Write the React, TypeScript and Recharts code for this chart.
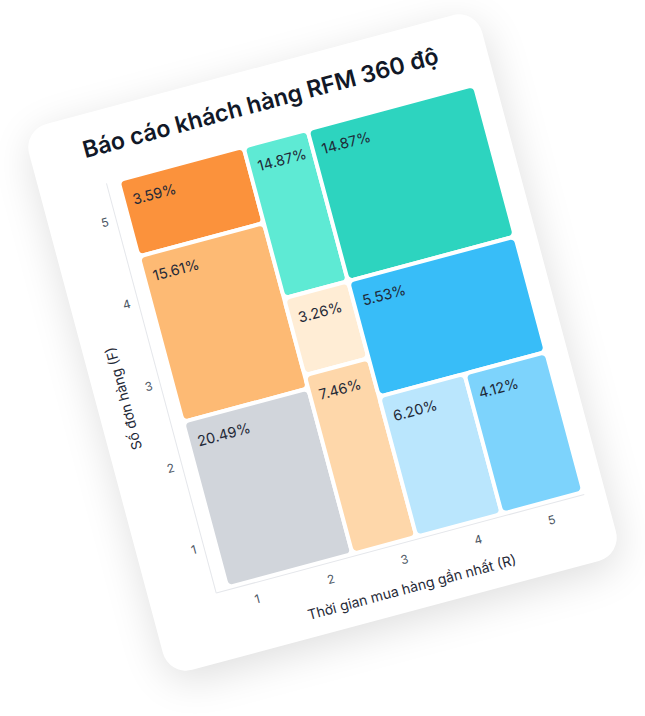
import { ComposedChart, XAxis, YAxis, ReferenceArea, Scatter } from "recharts";

// axis ticks sit near the middle of each score band
const xTicks = [0.5, 1.5, 2.5, 3.5, 4.5];
const xTickLabels = ["1", "2", "3", "4", "5"];
const yTicks = [0.56, 1.56, 2.56, 3.56, 4.56];
const yTickLabels = ["1", "2", "3", "4", "5"];

// RFM segments: share + extent in score units (R on x, F on y)
const segLabels = ["3.59%", "15.61%", "20.49%", "14.87%", "3.26%", "7.46%", "14.87%", "5.53%", "6.20%", "4.12%"];
const segX1 = [0.16, 0.16, 0.16, 1.86, 1.86, 1.86, 2.73, 2.73, 2.73, 3.89];
const segX2 = [1.86, 1.86, 1.86, 2.73, 2.73, 2.73, 5.0, 5.0, 3.89, 5.0];
const segY1 = [4.07, 2.05, 0.03, 3.15, 2.21, 0.03, 3.15, 1.74, 0.03, 0.03];
const segY2 = [5.0, 4.07, 2.05, 5.0, 3.15, 2.21, 5.0, 3.15, 1.74, 1.74];
const segColors = ["#FB923C", "#FDBA74", "#D1D5DB", "#5EEAD4", "#FFEDD5", "#FED7AA", "#2DD4BF", "#38BDF8", "#BAE6FD", "#7DD3FC"];

// segment centres, only so the axes have data to scale against
const segData = segLabels.map((_, i) => ({
  r: (segX1[i] + segX2[i]) / 2,
  f: (segY1[i] + segY2[i]) / 2,
}));

const CARD_W = 469;
const CARD_H = 565;

const tickStyle = { fontSize: 12, fill: "#4B5563" };

export default function App() {
  return (
    <div
      style={{
        position: "absolute",
        left: 0,
        top: 0,
        width: 645,
        height: 716,
        overflow: "hidden",
        background: "#fff",
        fontFamily: "Inter, 'Noto Sans', sans-serif",
      }}
    >
      <div
        style={{
          position: "absolute",
          left: 322 - CARD_W / 2,
          top: 342 - CARD_H / 2,
          width: CARD_W,
          height: CARD_H,
          background: "#fff",
          borderRadius: 24,
          boxShadow: "0 10px 40px rgba(0,0,0,0.13)",
          transform: "rotate(-15deg)",
          transformOrigin: "center",
        }}
      >
        <div
          style={{
            position: "absolute",
            left: 53,
            top: 23,
            fontSize: 23.2,
            lineHeight: "24px",
            fontWeight: 600,
            color: "#111827",
            whiteSpace: "nowrap",
          }}
        >
          Báo cáo khách hàng RFM 360 độ
        </div>
        <div style={{ position: "absolute", left: 0, top: 0 }}>
          <ComposedChart
            width={CARD_W}
            height={CARD_H}
            data={segData}
            margin={{ top: 73, right: 21, left: 7, bottom: 8 }}
          >
            <XAxis
              type="number"
              dataKey="r"
              domain={[0, 5]}
              allowDataOverflow
              ticks={xTicks}
              tickFormatter={(v: number) => xTickLabels[xTicks.indexOf(v)]}
              tickLine={false}
              tickMargin={6}
              height={60}
              stroke="#E5E7EB"
              tick={tickStyle}
              label={{
                value: "Thời gian mua hàng gần nhất (R)",
                position: "insideBottom",
                offset: 10,
                fontSize: 14,
                fill: "#1F2937",
              }}
            />
            <YAxis
              type="number"
              dataKey="f"
              domain={[0, 5]}
              allowDataOverflow
              ticks={yTicks}
              tickFormatter={(v: number) => yTickLabels[yTicks.indexOf(v)]}
              tickLine={false}
              width={60}
              stroke="#E5E7EB"
              tick={tickStyle}
              label={{
                value: "Số đơn hàng (F)",
                angle: -90,
                position: "insideLeft",
                offset: 21,
                fontSize: 14,
                fill: "#1F2937",
                style: { textAnchor: "middle" },
              }}
            />
            <Scatter
              dataKey="f"
              isAnimationActive={false}
              fill="none"
              shape={() => <g />}
            />
            {segLabels.map((lab, i) => (
              <ReferenceArea
                key={i}
                x1={segX1[i]}
                x2={segX2[i]}
                y1={segY1[i]}
                y2={segY2[i]}
                fill={segColors[i]}
                fillOpacity={1}
                stroke="#fff"
                strokeWidth={4}
                radius={6}
                label={{
                  value: lab,
                  position: "insideTopLeft",
                  offset: 9,
                  dy: 8.5,
                  fontSize: 14.5,
                  fill: "#1F2937",
                }}
              />
            ))}
          </ComposedChart>
        </div>
      </div>
    </div>
  );
}
